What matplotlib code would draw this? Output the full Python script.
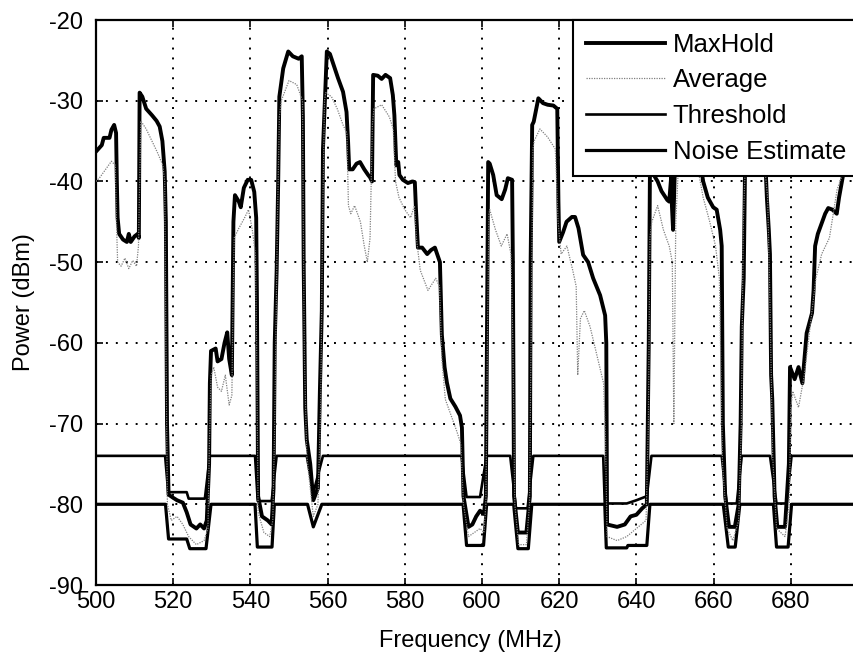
import matplotlib
matplotlib.use("Agg")
import matplotlib.pyplot as plt

plt.rcParams['font.family'] = ['Liberation Sans', 'DejaVu Sans']
plt.rcParams['axes.unicode_minus'] = False

# MaxHold trace (frequency MHz, power dBm)
maxhold_f = [500.0, 501.5, 502.0, 503.5, 504.0, 504.7, 505.2, 505.4, 505.6, 506.0,
             507.0, 508.0, 508.5, 509.0, 510.0, 510.8, 511.1, 511.3, 512.0, 513.0,
             514.5, 515.7, 516.5, 517.2, 517.8, 518.1, 518.4, 518.8, 520.0, 521.0,
             522.5, 523.5, 524.5, 526.0, 527.0, 528.0, 528.7, 529.3, 529.5, 529.8,
             531.0, 531.5, 532.5, 533.3, 534.0, 534.5, 535.2, 535.4, 535.6, 536.0,
             537.0, 537.5, 538.3, 539.3, 540.2, 541.0, 541.5, 541.7, 542.0, 543.0,
             544.5, 545.5, 546.0, 546.3, 546.8, 547.2, 547.5, 548.5, 549.8, 551.0,
             552.5, 553.3, 553.6, 553.8, 554.2, 554.6, 555.5, 556.3, 557.5, 558.0,
             558.5, 558.8, 559.8, 560.6, 561.5, 562.7, 564.0, 564.9, 565.3, 565.6,
             566.5, 567.5, 568.4, 569.5, 570.5, 571.0, 571.5, 571.8, 573.0, 574.0,
             575.0, 576.2, 576.9, 577.3, 577.8, 578.3, 578.6, 579.5, 580.8, 582.0,
             582.6, 582.9, 583.4, 584.5, 585.8, 586.8, 587.8, 589.1, 589.6, 590.3,
             590.9, 591.8, 593.1, 594.3, 594.8, 595.2, 596.5, 597.5, 598.5, 599.5,
             600.5, 601.0, 601.3, 601.6, 602.0, 602.9, 603.8, 605.1, 606.0, 606.7,
             607.8, 608.0, 608.3, 609.3, 611.5, 612.4, 612.6, 613.0, 613.4, 614.6,
             615.8, 617.0, 618.5, 619.5, 619.8, 620.0, 621.0, 621.9, 623.3, 624.1,
             625.0, 626.2, 627.5, 628.8, 630.6, 631.9, 632.2, 632.4, 635.0, 637.0,
             638.5, 640.0, 641.5, 642.7, 643.2, 643.5, 644.0, 645.5, 646.5, 648.0,
             648.5, 649.0, 649.2, 649.5, 650.0, 652.0, 655.0, 657.3, 658.5, 659.9,
             660.8, 661.7, 662.1, 662.4, 663.0, 664.0, 665.5, 666.5, 667.0, 667.3,
             667.8, 668.2, 670.0, 673.0, 673.8, 674.3, 674.6, 674.9, 675.2, 675.8,
             676.5, 678.5, 679.5, 679.8, 681.0, 682.0, 683.0, 684.1, 685.5, 685.9,
             686.3, 687.0, 688.0, 688.9, 689.7, 690.8, 691.9, 692.5, 694.0, 697.0,
             700.0]
maxhold_db = [-36.3, -35.5, -34.6, -34.6, -33.6, -33.0, -34.0, -40.0, -44.5, -46.5,
              -47.2, -47.5, -46.5, -47.5, -46.8, -46.5, -47.0, -29.0, -29.5, -31.0,
              -31.8, -32.5, -33.2, -35.0, -38.8, -45.0, -70.0, -78.8, -79.2, -79.5,
              -79.8, -81.0, -82.5, -83.0, -82.5, -83.0, -82.0, -75.0, -65.0, -61.0,
              -60.7, -62.3, -62.0, -60.0, -58.7, -62.0, -64.0, -55.0, -45.0, -41.7,
              -42.5, -43.2, -40.8, -39.8, -39.8, -41.3, -44.5, -55.0, -79.0, -81.5,
              -82.0, -82.5, -78.0, -60.0, -51.0, -40.0, -29.5, -26.0, -23.9, -24.5,
              -24.8, -24.5, -32.0, -50.0, -68.0, -72.0, -75.0, -79.5, -78.0, -66.0,
              -56.0, -36.0, -23.9, -24.2, -25.5, -27.2, -28.9, -31.4, -35.0, -38.5,
              -38.5, -37.8, -37.6, -38.5, -39.2, -39.5, -40.0, -26.8, -26.9, -27.3,
              -26.8, -27.2, -29.3, -31.8, -38.0, -37.6, -39.2, -39.8, -40.2, -40.0,
              -40.1, -43.5, -48.2, -48.2, -49.0, -48.5, -48.2, -50.0, -59.0, -63.0,
              -64.9, -66.9, -67.9, -69.0, -70.5, -79.0, -82.8, -82.5, -81.5, -80.8,
              -81.2, -79.0, -58.0, -37.6, -37.8, -39.2, -41.7, -42.2, -41.0, -39.6,
              -39.8, -50.0, -79.0, -83.5, -83.5, -79.0, -50.0, -33.0, -32.6, -29.7,
              -30.3, -30.5, -30.6, -31.0, -42.5, -47.5, -46.3, -45.0, -44.4, -44.4,
              -45.8, -49.1, -50.0, -52.0, -54.1, -56.6, -60.0, -82.5, -82.8, -82.5,
              -81.5, -81.3, -80.5, -80.0, -60.0, -39.2, -38.8, -40.0, -41.2, -42.3,
              -42.5, -39.5, -43.0, -46.0, -38.0, -34.0, -33.0, -40.0, -42.0, -43.2,
              -43.5, -46.0, -48.0, -70.0, -79.0, -82.8, -82.8, -80.0, -70.0, -58.0,
              -52.0, -36.0, -32.0, -33.0, -42.0, -46.0, -49.0, -64.0, -67.0, -79.0,
              -82.8, -82.8, -75.0, -63.0, -64.5, -63.0, -65.0, -58.8, -56.3, -53.5,
              -48.0, -46.5, -45.2, -44.0, -43.3, -43.5, -44.0, -42.0, -38.0, -36.0,
              -35.0]

# Average trace
average_f = [500.0, 501.0, 502.5, 504.0, 505.0, 505.3, 505.6, 506.5, 507.5, 508.5,
             509.5, 510.5, 511.0, 511.3, 511.6, 513.0, 514.5, 516.0, 517.3, 517.8,
             518.1, 518.5, 519.5, 521.0, 522.5, 524.0, 526.0, 528.0, 529.0, 529.4,
             529.8, 530.5, 531.5, 532.5, 533.5, 534.5, 535.2, 535.5, 535.8, 537.0,
             538.5, 539.5, 540.5, 541.3, 541.6, 542.0, 543.5, 545.0, 545.8, 546.3,
             547.0, 547.5, 548.0, 550.0, 552.0, 553.5, 553.7, 554.0, 554.6, 555.5,
             556.3, 557.5, 558.2, 558.7, 559.2, 559.5, 561.0, 562.5, 564.0, 565.0,
             565.4, 566.0, 567.0, 568.5, 569.5, 570.3, 571.0, 571.6, 572.0, 574.0,
             576.0, 577.0, 577.6, 578.5, 580.0, 581.5, 582.5, 583.0, 584.0, 586.0,
             588.0, 589.0, 589.6, 590.5, 592.0, 593.5, 594.5, 595.2, 596.5, 598.0,
             599.5, 600.5, 601.0, 601.4, 601.8, 602.0, 603.5, 605.0, 606.5, 607.5,
             608.0, 608.5, 609.5, 611.5, 612.3, 612.8, 613.2, 613.5, 615.0, 617.0,
             619.0, 619.7, 620.5, 622.0, 623.5, 624.4, 624.8, 625.5, 626.5, 628.0,
             630.0, 631.5, 632.0, 632.4, 635.0, 637.5, 640.0, 642.5, 643.1, 643.5,
             644.0, 645.5, 647.0, 648.5, 649.3, 649.7, 650.2, 651.0, 655.0, 657.3,
             659.0, 660.5, 661.5, 662.3, 663.5, 665.0, 666.5, 667.2, 667.7, 668.2,
             670.0, 673.0, 674.0, 674.6, 675.3, 676.3, 678.5, 679.6, 680.0, 680.5,
             682.0, 683.5, 685.0, 686.5, 688.0, 690.0, 692.0, 693.5, 696.0, 700.0]
average_db = [-40.0, -39.5, -38.5, -37.5, -38.0, -45.0, -50.0, -50.5, -49.5, -50.8,
              -49.8, -50.5, -48.0, -40.0, -32.5, -33.5, -35.0, -36.5, -38.0, -40.0,
              -60.0, -80.0, -82.0, -81.5, -82.5, -84.0, -85.0, -84.5, -83.0, -72.0,
              -64.0, -63.0, -65.5, -66.0, -64.0, -67.7, -66.5, -55.0, -47.0, -45.8,
              -44.5, -43.5, -46.0, -49.0, -60.0, -81.0, -83.5, -84.0, -82.0, -70.0,
              -45.0, -32.0, -30.0, -27.5, -28.0, -30.0, -45.0, -62.0, -74.0, -78.0,
              -81.5, -80.0, -68.0, -45.0, -30.0, -29.0, -29.5, -31.0, -33.0, -34.0,
              -43.0, -44.0, -43.0, -45.0, -48.0, -50.0, -47.0, -33.0, -31.0, -30.5,
              -32.0, -33.5, -40.0, -42.0, -43.5, -44.5, -43.0, -47.0, -51.0, -53.5,
              -52.0, -53.0, -62.0, -67.0, -69.0, -71.0, -72.5, -80.0, -84.0, -83.5,
              -83.0, -83.5, -80.0, -60.0, -44.0, -43.5, -46.0, -48.0, -46.5, -49.0,
              -60.0, -80.0, -85.0, -85.0, -80.0, -55.0, -36.0, -35.0, -33.5, -34.5,
              -36.0, -45.0, -49.0, -48.0, -51.0, -53.0, -64.0, -57.0, -56.0, -58.0,
              -62.0, -65.0, -72.0, -84.0, -84.5, -84.0, -83.0, -82.0, -70.0, -47.0,
              -45.0, -43.0, -46.0, -48.0, -50.0, -70.0, -45.0, -37.0, -36.0, -42.0,
              -45.0, -48.0, -52.0, -75.0, -83.0, -84.5, -82.0, -70.0, -45.0, -38.0,
              -36.0, -37.0, -42.0, -55.0, -74.0, -83.0, -84.0, -80.0, -68.0, -66.0,
              -68.0, -64.0, -58.0, -52.0, -49.0, -47.0, -41.0, -39.0, -37.0, -36.0]

# Detection threshold
threshold_f = [500.0, 517.9, 518.7, 523.5, 524.0, 528.2, 529.5, 541.2, 541.9, 545.5,
               546.8, 554.6, 556.3, 558.8, 594.7, 596.0, 599.5, 601.2, 607.3, 608.8,
               611.8, 613.3, 631.4, 631.8, 637.5, 640.0, 642.7, 643.9, 662.1, 663.4,
               666.0, 667.3, 674.6, 676.3, 678.9, 680.2, 700.0]
threshold_db = [-74.0, -74.0, -78.5, -78.5, -79.3, -79.3, -74.0, -74.0, -79.6, -79.6,
                -74.0, -74.0, -78.6, -74.0, -74.0, -79.1, -79.1, -74.0, -74.0, -80.5,
                -80.5, -74.0, -74.0, -79.9, -79.9, -79.5, -79.0, -74.0, -74.0, -79.9,
                -79.9, -74.0, -74.0, -79.9, -79.9, -74.0, -74.0]

# Noise estimate
noise_f = [500.0, 518.0, 518.8, 523.5, 524.3, 528.5, 529.8, 541.2, 541.8, 545.6,
           546.2, 554.8, 556.3, 558.5, 595.1, 596.0, 600.4, 601.2, 608.2, 609.3,
           612.0, 612.9, 631.8, 632.2, 637.5, 637.8, 642.7, 643.5, 662.5, 663.8,
           665.6, 666.8, 675.5, 676.3, 679.3, 680.2, 700.0]
noise_db = [-80.0, -80.0, -84.3, -84.3, -85.5, -85.5, -80.0, -80.0, -85.3, -85.3,
            -80.0, -80.0, -82.8, -80.0, -80.0, -85.1, -85.1, -80.0, -80.0, -85.5,
            -85.5, -80.0, -80.0, -85.4, -85.4, -85.1, -85.1, -80.0, -80.0, -85.3,
            -85.3, -80.0, -80.0, -85.3, -85.3, -80.0, -80.0]

x_ticks = list(range(500, 681, 20))
y_ticks = list(range(-90, -19, 10))

fig = plt.figure(figsize=(8.54, 6.6), dpi=100)
# axes run a little past the right edge, like the cropped original
ax = fig.add_axes([96 / 854, 75 / 660, 772 / 854, 565 / 660])

ax.plot(maxhold_f, maxhold_db, color='black', lw=2.8, label='MaxHold', zorder=3)
ax.plot(average_f, average_db, color='0.5', lw=0.9, ls=(0, (1, 1)), label='Average', zorder=4)
ax.plot(threshold_f, threshold_db, color='black', lw=1.9, label='Threshold', zorder=3)
ax.plot(noise_f, noise_db, color='black', lw=2.3, label='Noise Estimate', zorder=3)

ax.set_xlim(500, 700)
ax.set_ylim(-90, -20)
ax.set_xticks(x_ticks)
ax.set_yticks(y_ticks)
ax.grid(True, color='black', lw=1.4, ls=(0, (1, 4.1)))
ax.tick_params(direction='in', top=True, right=True, length=5, width=1.2,
               labelsize=17)
ax.tick_params(axis='y', pad=9)
ax.tick_params(axis='x', pad=4)
for s in ax.spines.values():
    s.set_linewidth(1.6)

ax.set_xlabel('Frequency (MHz)', fontsize=17)
ax.xaxis.set_label_coords((470 - 96) / 772, -0.08)
ax.set_ylabel('Power (dBm)', fontsize=17, labelpad=10)

leg = ax.legend(loc='upper left', bbox_to_anchor=((573 - 96) / 772, 1.0),
                fontsize=18.5, borderaxespad=0, handlelength=3.1,
                handletextpad=0.28, labelspacing=0.45, fancybox=False,
                edgecolor='black', framealpha=1, borderpad=0.5)
leg.get_frame().set_linewidth(1.5)

fig.savefig('out.png', dpi=100)
